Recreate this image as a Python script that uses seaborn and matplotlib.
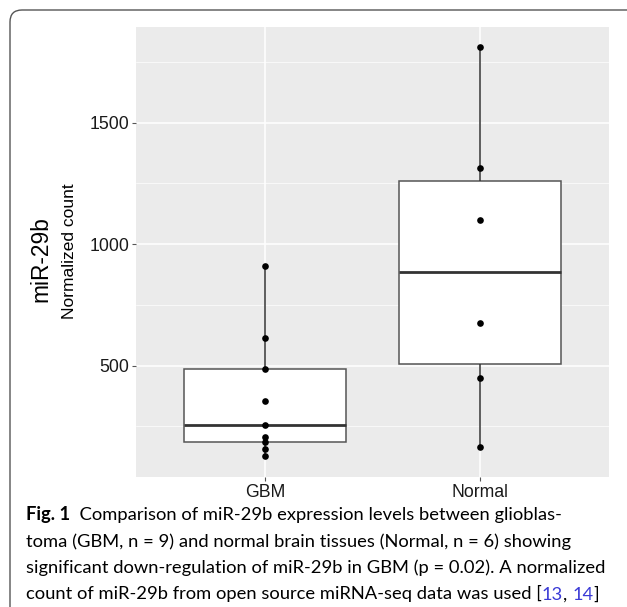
import numpy as np
import pandas as pd
import seaborn as sns
import matplotlib.pyplot as plt
from matplotlib.patches import FancyBboxPatch

# values (normalized counts)
gbm_counts = [127, 158, 184, 208, 255, 353, 484, 612, 910]
normal_counts = [167, 449, 674, 1100, 1311, 1810]
groups = ['GBM', 'Normal']
y_ticks = [500, 1000, 1500]

df = pd.DataFrame({
    'group': ['GBM'] * len(gbm_counts) + ['Normal'] * len(normal_counts),
    'count': gbm_counts + normal_counts,
})

sns.set_theme(style='darkgrid', rc={
    'axes.facecolor': '#EBEBEB',
    'grid.color': 'white',
    'axes.edgecolor': 'none',
})
plt.rcParams['font.family'] = ['Liberation Sans', 'DejaVu Sans']

W, H = 627, 607
fig = plt.figure(figsize=(W / 100, H / 100), dpi=100)
fig.patch.set_facecolor('white')

# axes in pixel geometry of the reference
left, right, top, bottom = 136, 609, 26.7, 476.7
ax = fig.add_axes([left / W, 1 - bottom / H, (right - left) / W, (bottom - top) / H])

box_col = '#555555'
sns.boxplot(data=df, x='group', y='count', order=groups, color='white',
            linecolor=box_col, linewidth=1.1, width=0.75, showcaps=False,
            showfliers=False, medianprops=dict(linewidth=2.0, color='#333333'),
            whiskerprops=dict(color='#333333'),
            ax=ax)
sns.stripplot(data=df, x='group', y='count', order=groups, jitter=False,
              color='black', size=4.8, ax=ax, zorder=5)

# ggplot-like limits
lo, hi = df['count'].min(), df['count'].max()
rng = hi - lo
ax.set_ylim(lo - 0.05 * rng, hi + 0.05 * rng)
ax.set_xlim(-0.6, 1.6)

ax.set_yticks(y_ticks)
ax.set_yticks([250, 750, 1250, 1750], minor=True)
ax.grid(True, which='major', color='white', linewidth=1.1)
ax.grid(True, which='minor', axis='y', color='white', linewidth=0.5)
ax.set_axisbelow(True)
ax.tick_params(axis='both', which='major', length=3, width=0.8, color='#555555',
               labelsize=12.7, labelcolor='#1a1a1a', pad=2)
ax.tick_params(axis='y', which='minor', length=0)
ax.tick_params(axis='x', which='major', bottom=True)
ax.tick_params(axis='y', which='major', left=True)
ax.set_xlabel('')
ax.set_ylabel('')
for s in ax.spines.values():
    s.set_visible(False)

# two-line y label
fig.text(41 / W, 1 - 259 / H, 'miR-29b', rotation=90, ha='center', va='center',
         fontsize=16.4, color='black')
fig.text(69.5 / W, 1 - 251 / H, 'Normalized count', rotation=90, ha='center',
         va='center', fontsize=12.5, color='black')

# rounded frame around the figure (cropped at right and bottom)
frame = FancyBboxPatch((0.10, -0.6), 7.0, 0.6 + 5.97,
                       boxstyle='round,pad=0,rounding_size=0.12',
                       transform=fig.dpi_scale_trans, facecolor='none',
                       edgecolor='#555555', linewidth=1.0)
fig.add_artist(frame)

# caption, placed run by run
cap_font = ['Lato', 'DejaVu Sans']
cap_size = 13.2
blue = '#3a3ad6'
caption = [
    [('Fig. 1', 'bold', 'black'), ('  Comparison of miR-29b expression levels between glioblas-', 'normal', 'black')],
    [('toma (GBM, n = 9) and normal brain tissues (Normal, n = 6) showing', 'normal', 'black')],
    [('significant down-regulation of miR-29b in GBM (p = 0.02). A normalized', 'normal', 'black')],
    [('count of miR-29b from open source miRNA-seq data was used [', 'normal', 'black'),
     ('13', 'normal', blue), (', ', 'normal', 'black'), ('14', 'normal', blue),
     (']', 'normal', 'black')],
]
baselines = [520, 546.5, 573, 599.5]

fig.canvas.draw()
renderer = fig.canvas.get_renderer()
for runs, yb in zip(caption, baselines):
    x = 26
    for txt, weight, col in runs:
        t = fig.text(x / W, 1 - yb / H, txt, ha='left', va='baseline',
                     fontsize=cap_size, fontweight=weight, color=col,
                     family=cap_font)
        bb = t.get_window_extent(renderer=renderer)
        x += bb.width

fig.savefig('out.png', dpi=100)
